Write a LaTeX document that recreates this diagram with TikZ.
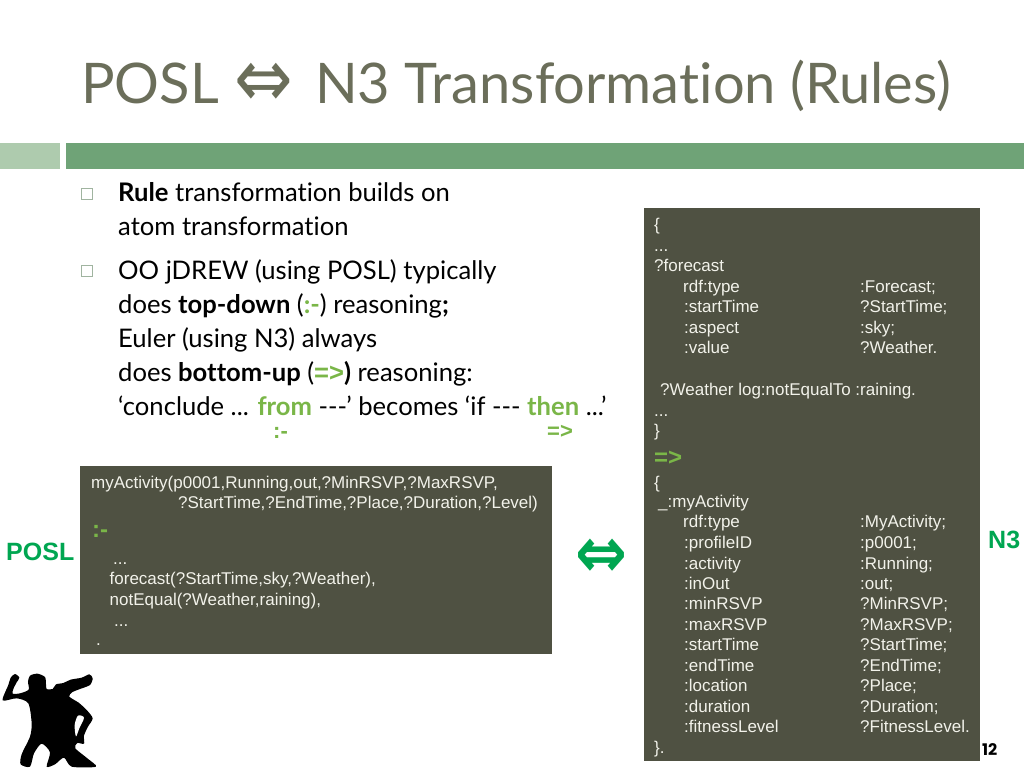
\documentclass[tikz,border=0pt]{standalone}
\usepackage{fontspec}
\setmainfont{Liberation Sans}
\newfontfamily\gothic[Ligatures=CommonOff]{Lato}
\newfontfamily\wide{Poppins}
\newfontfamily\sym{DejaVu Sans}
\definecolor{boxfill}{HTML}{4F5142}
\definecolor{titlecol}{HTML}{6B6E5A}
\definecolor{lightbar}{HTML}{AECBAE}
\definecolor{darkbar}{HTML}{6FA377}
\definecolor{limeg}{HTML}{7AB648}
\definecolor{emer}{HTML}{00A651}
\definecolor{boxtext}{HTML}{F2F2EA}
\newcommand{\lime}[1]{\textcolor{limeg}{#1}}
\tikzset{
  bodyline/.style={anchor=base west,inner sep=0pt,yshift=-1pt,font=\gothic\fontsize{25.6}{28}\selectfont,text=black},
  titleline/.style={anchor=base west,inner sep=0pt,text=titlecol,font=\gothic\fontsize{56}{60}\selectfont},
  code/.style={anchor=base west,inner sep=0pt,yshift=-1.4pt,font=\fontsize{17}{20}\selectfont,text=boxtext},
  op/.style={anchor=base west,inner sep=0pt,yshift=-1pt,font=\bfseries\fontsize{24}{26}\selectfont,text=limeg},
  opsmall/.style={op,font=\bfseries\fontsize{22}{24}\selectfont},
  tag/.style={anchor=base west,inner sep=0pt,font=\bfseries\fontsize{25}{27}\selectfont,text=emer},
  bulletbox/.style={draw=lightbar!70!gray,line width=.9pt,minimum size=11pt,inner sep=0pt,fill=white},
  panel/.style={fill=boxfill,draw=none}
}
\begin{document}
\begin{tikzpicture}[x=1pt,y=-1pt]
\useasboundingbox (0,0) rectangle (1024,768);
\fill[white] (0,0) rectangle (1024,768);
% title
\node[titleline] (title) at (81,103) {POSL};
\node[anchor=center,inner sep=0pt,text=titlecol,font=\sym\fontsize{70}{72}\selectfont] (titlearrow) at (264,85) {\scalebox{1}[1.2]{⇔}};
\node[titleline] (title2) at (315,103) {N3 Transformation (Rules)};
% bars
\fill[lightbar] (0,143) rectangle (60,169);
\fill[darkbar] (66,143) rectangle (1024,169);
% bullets
\node[bulletbox] (b1) at (86.5,194) {};
\node[bulletbox] (b2) at (86.5,271) {};
% body
\node[bodyline] (l1) at (118,200) {\textbf{Rule} transformation builds on};
\node[bodyline] (l2) at (118,234) {atom transformation};
\node[bodyline] (l3) at (118,278) {OO jDREW (using POSL) typically};
\node[bodyline] (l4) at (118,312) {does \textbf{top-down} (\lime{\textbf{:-}}) reasoning\textbf{;}};
\node[bodyline] (l5) at (118,346) {Euler (using N3) always};
\node[bodyline] (l6) at (118,380) {does \textbf{bottom-up} (\lime{\rmfamily\textbf{=>}}\textbf{)} reasoning:};
\node[bodyline] (l7) at (118,414) {‘conclude ... \lime{\textbf{from}} ---’ becomes ‘if --- \lime{\textbf{then}} ...’};
\node[opsmall] (n1) at (273,437) {:-};
\node[opsmall] (n2) at (547,437) {=>};
% left panel
\fill[panel] (80,466) rectangle (552,654);
\node[code] (p1) at (91,487) {myActivity(p0001,Running,out,?MinRSVP,?MaxRSVP,};
\node[code] (p2) at (178,507) {?StartTime,?EndTime,?Place,?Duration,?Level)};
\node[op] (p3) at (92,536) {:-};
\node[code] (p4) at (113,563) {...};
\node[code] (p5) at (109.5,583) {forecast(?StartTime,sky,?Weather),};
\node[code] (p6) at (109.5,604) {notEqual(?Weather,raining),};
\node[code] (p7) at (114,625) {...};
\node[code] (p8) at (96,644) {.};
% right panel
\fill[panel] (644,208) rectangle (980,761);
\node[code] (r1) at (654,229) {\{};
\node[code] (r2) at (654,250) {...};
\node[code] (r3) at (654,270) {?forecast};
\node[code] (r4) at (683,291) {rdf:type};
\node[code] (r4v) at (860,291) {:Forecast;};
\node[code] (r5) at (684,311) {:startTime};
\node[code] (r5v) at (860,311) {?StartTime;};
\node[code] (r6) at (684,332) {:aspect};
\node[code] (r6v) at (860,332) {:sky;};
\node[code] (r7) at (684,352) {:value};
\node[code] (r7v) at (860,352) {?Weather.};
\node[code] (r8) at (660,394) {?Weather log:notEqualTo :raining.};
\node[code] (r9) at (654,415) {...};
\node[code] (r10) at (654,435) {\}};
\node[op] (r11) at (654,464) {=>};
\node[code] (r12) at (654,487) {\{};
\node[code] (r13) at (658,506) {\_:myActivity};
\node[code] (s1) at (683,526) {rdf:type};
\node[code] (s1v) at (860,526) {:MyActivity;};
\node[code] (s2) at (684,547) {:profileID};
\node[code] (s2v) at (860,547) {:p0001;};
\node[code] (s3) at (684,568) {:activity};
\node[code] (s3v) at (860,568) {:Running;};
\node[code] (s4) at (684,588) {:inOut};
\node[code] (s4v) at (860,588) {:out;};
\node[code] (s5) at (684,608) {:minRSVP};
\node[code] (s5v) at (860,608) {?MinRSVP;};
\node[code] (s6) at (684,629) {:maxRSVP};
\node[code] (s6v) at (860,629) {?MaxRSVP;};
\node[code] (s7) at (684,649) {:startTime};
\node[code] (s7v) at (860,649) {?StartTime;};
\node[code] (s8) at (684,670) {:endTime};
\node[code] (s8v) at (860,670) {?EndTime;};
\node[code] (s9) at (684,690) {:location};
\node[code] (s9v) at (860,690) {?Place;};
\node[code] (s10) at (684,711) {:duration};
\node[code] (s10v) at (860,711) {?Duration;};
\node[code] (s11) at (684,731) {:fitnessLevel};
\node[code] (s11v) at (860,731) {?FitnessLevel.};
\node[code] (s12) at (654,752) {\}.};
% tags
\node[tag] (posl) at (6,560) {POSL};
\node[tag] (n3) at (988,548) {N3};
\node[anchor=center,inner sep=0pt,text=emer,font=\sym\bfseries\fontsize{62}{64}\selectfont] (bigarrow) at (601,558.5) {\scalebox{1}[1.15]{⇔}};
\node[anchor=base west,inner sep=0pt,font=\wide\bfseries\fontsize{16}{18}\selectfont] (page) at (982,755) {12};
% silhouette
\begin{scope}[shift={(0,665)},x=.3333pt,y=-.3333pt]
\fill[black] plot[smooth cycle,tension=.45] coordinates {
 (45,27) (58,38) (50,52) (40,72) (38,86) (60,85) (86,74) (84,50) (90,32) (112,26) (135,36) (138,58) (140,72) (158,72)
 (168,58) (190,54) (212,44) (245,38) (268,28) (278,40) (270,60) (240,72) (216,82) (208,95) (236,113) (260,135) (278,160)
 (264,185) (252,212) (252,236) (232,234) (226,250) (262,280) (288,305) (215,305) (192,278) (165,298) (140,305)
 (150,262) (125,236) (102,265) (90,305) (62,298) (65,268) (90,215) (95,175) (85,115) (50,100) (8,106) (25,60) (32,38)};
\fill[white] plot[smooth cycle,tension=.5] coordinates {(234,152) (252,158) (238,190) (228,214) (224,180)};
\end{scope}
\end{tikzpicture}
\end{document}
